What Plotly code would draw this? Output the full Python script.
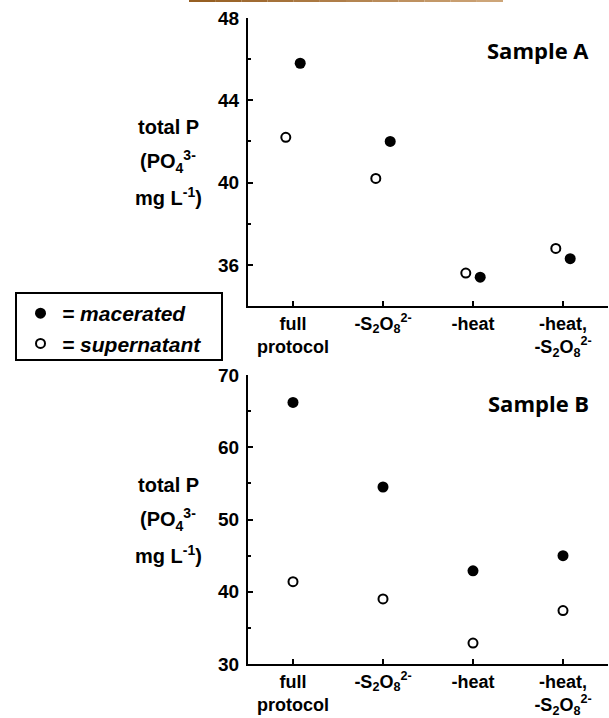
import plotly.graph_objects as go

# ---------------- data ----------------
categories = ["full protocol", "-S2O8 2-", "-heat", "-heat, -S2O8 2-"]
tick_labels = ["full<br>protocol",
               "-S<sub>2</sub>O<sub>8</sub><sup>2-</sup>",
               "-heat",
               "-heat,<br>-S<sub>2</sub>O<sub>8</sub><sup>2-</sup>"]
a_macerated = [45.8, 42.0, 35.4, 36.3]
a_supernatant = [42.2, 40.2, 35.6, 36.8]
b_macerated = [66.2, 54.5, 42.9, 45.0]
b_supernatant = [41.4, 39.0, 32.9, 37.4]
y_title_lines = ["total P", "(PO<sub>4</sub><sup>3-</sup>", "mg L<sup>-1</sup>)"]

W, H = 609, 718
FONT = "Liberation Sans"
idx = list(range(len(categories)))

def px_x(p):
    return p / W

def px_y(p):
    return 1 - p / H

fig = go.Figure()

off = 0.08
fig.add_trace(go.Scatter(
    x=[i + off for i in idx], y=a_macerated, mode="markers", name="= macerated",
    marker=dict(symbol="circle", size=11, color="black", line=dict(width=0)),
    xaxis="x", yaxis="y"))
fig.add_trace(go.Scatter(
    x=[i - off for i in idx], y=a_supernatant, mode="markers", name="= supernatant",
    marker=dict(symbol="circle", size=9, color="white", line=dict(width=2, color="black")),
    xaxis="x", yaxis="y"))
fig.add_trace(go.Scatter(
    x=idx, y=b_macerated, mode="markers", showlegend=False,
    marker=dict(symbol="circle", size=11, color="black", line=dict(width=0)),
    xaxis="x2", yaxis="y2"))
fig.add_trace(go.Scatter(
    x=idx, y=b_supernatant, mode="markers", showlegend=False,
    marker=dict(symbol="circle", size=9, color="white", line=dict(width=2, color="black")),
    xaxis="x2", yaxis="y2"))

ytickfont = dict(family=FONT, size=19, color="black", weight="bold")
xtickfont = dict(family=FONT, size=18, color="black", weight="bold")

xcommon = dict(range=[-0.5, 3.5], tickvals=idx, ticktext=tick_labels,
               showline=True, linewidth=2, linecolor="black", ticks="inside",
               ticklen=5, tickwidth=2, tickcolor="black", showgrid=False,
               zeroline=False, tickfont=xtickfont, domain=[px_x(248), px_x(608)],
               automargin=False, fixedrange=True)
ycommon = dict(showline=True, linewidth=2, linecolor="black", ticks="inside",
               ticklen=5, tickwidth=2, tickcolor="black", showgrid=False,
               zeroline=False, tickfont=ytickfont, ticklabelstandoff=3,
               automargin=False, fixedrange=True)

top_dom = [px_y(306), px_y(18)]
bot_dom = [px_y(664), px_y(375)]

fig.update_layout(
    width=W, height=H, autosize=False,
    margin=dict(l=0, r=0, t=0, b=0, pad=0, autoexpand=False),
    paper_bgcolor="white", plot_bgcolor="white",
    xaxis=dict(**xcommon, anchor="y"),
    yaxis=dict(**ycommon, range=[34, 48], tick0=0, dtick=4, domain=top_dom, anchor="x",
               minor=dict(dtick=2, tick0=0, ticks="inside", ticklen=3, tickwidth=2, tickcolor="black")),
    xaxis2=dict(**xcommon, anchor="y2"),
    yaxis2=dict(**ycommon, range=[30, 70], tick0=0, dtick=10, domain=bot_dom, anchor="x2",
                minor=dict(dtick=5, tick0=0, ticks="inside", ticklen=3, tickwidth=2, tickcolor="black")),
    showlegend=True,
    legend=dict(x=px_x(19), y=px_y(293), xanchor="left", yanchor="top",
                borderwidth=0, bgcolor="rgba(0,0,0,0)",
                font=dict(family=FONT, size=21, color="black", weight="bold", style="italic"),
                itemwidth=33, traceorder="normal"),
)

annotations = []
for dom in (top_dom, bot_dom):
    mid = (dom[0] + dom[1]) / 2
    for k, line in enumerate(y_title_lines):
        annotations.append(dict(
            x=px_x(168), y=mid, xref="paper", yref="paper", xanchor="center", yanchor="middle",
            yshift=(1 - k) * 34.5, text=line, showarrow=False,
            font=dict(family=FONT, size=20, color="black", weight="bold")))
annotations.append(dict(x=px_x(538), y=px_y(50), xref="paper", yref="paper", text="Sample A",
                        showarrow=False, xanchor="center", yanchor="middle",
                        font=dict(family="Open Sans", size=22, color="black", weight="bold")))
annotations.append(dict(x=px_x(538), y=px_y(403), xref="paper", yref="paper", text="Sample B",
                        showarrow=False, xanchor="center", yanchor="middle",
                        font=dict(family="Open Sans", size=22, color="black", weight="bold")))
fig.update_layout(annotations=annotations)

shapes = []
# legend frame
shapes.append(dict(type="rect", xref="paper", yref="paper",
                   x0=px_x(16), x1=px_x(222), y0=px_y(360), y1=px_y(293),
                   line=dict(width=2, color="black"), fillcolor="rgba(0,0,0,0)", layer="below"))
# decorative gradient bar at the top
n = 12
x0, x1 = 189, 503
c0, c1 = (150, 95, 35), (205, 165, 120)
for i in range(n):
    t = i / (n - 1)
    c = tuple(int(c0[j] + (c1[j] - c0[j]) * t) for j in range(3))
    shapes.append(dict(type="rect", xref="paper", yref="paper",
                       x0=px_x(x0 + (x1 - x0) * i / n), x1=px_x(x0 + (x1 - x0) * (i + 1) / n),
                       y0=px_y(2), y1=1, line=dict(width=0), fillcolor="rgb(%d,%d,%d)" % c))
fig.update_layout(shapes=shapes)

fig.write_html("out.html", config={"displayModeBar": False},
               post_script="document.body.style.margin='0';document.body.style.overflow='hidden';")
